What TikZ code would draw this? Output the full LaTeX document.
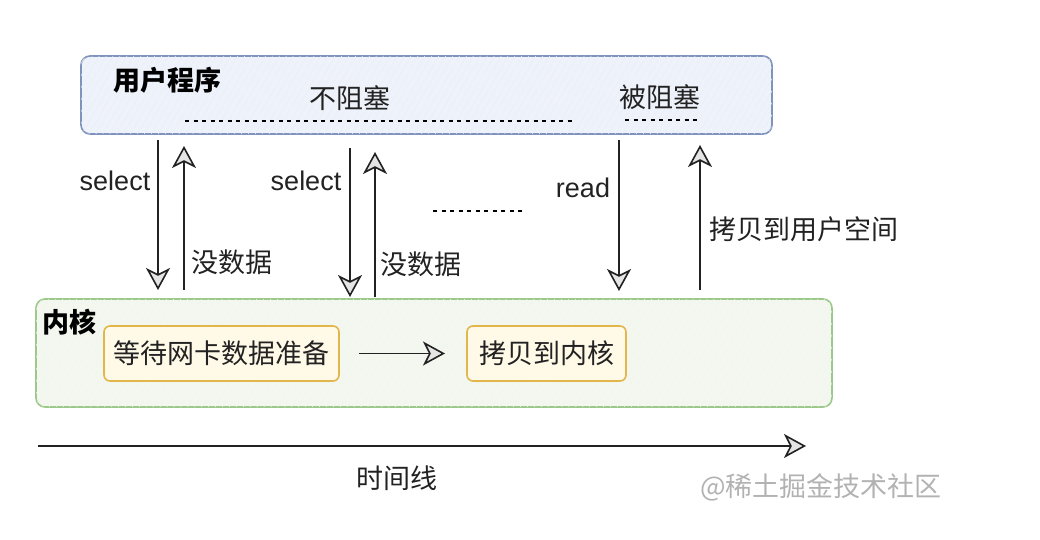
\documentclass[tikz,border=0pt]{standalone}
\usepackage{fontspec}
\setmainfont{Noto Sans CJK SC}
\newfontfamily\latinfont{Liberation Sans}
\usetikzlibrary{arrows.meta,patterns.meta,positioning}

\definecolor{userfill}{HTML}{EEF2FA}
\definecolor{userline}{HTML}{7F93BC}
\definecolor{kernfill}{HTML}{F3F7EF}
\definecolor{kernline}{HTML}{9CC98A}
\definecolor{stagefill}{HTML}{FFF9E8}
\definecolor{stageline}{HTML}{E2B64A}
\definecolor{inkgray}{HTML}{222222}

\tikzset{
  headtip/.tip={Stealth[open, length=22pt, width=24pt, inset=6pt, line width=1.6pt, fill=gray!20]}
}

\begin{document}
\begin{tikzpicture}[x=1pt, y=-1pt, font=\fontsize{27}{32}\selectfont, text=inkgray,
  lane/.style={rounded corners=9pt, line width=1.6pt, inner sep=0pt, outer sep=0pt,
    postaction={pattern={Lines[angle=60,distance=6pt,line width=0.5pt]}, pattern color=#1}},
  stage/.style={draw=stageline, fill=stagefill, rounded corners=6pt, line width=1.6pt,
    minimum height=55pt, inner xsep=4pt, outer sep=0pt},
  call/.style={draw=inkgray, line width=1.5pt, -headtip},
  wait/.style={line width=2.6pt, dash pattern=on 4pt off 4.5pt},
  lbl/.style={font=\latinfont\fontsize{27}{32}\selectfont},
  title/.style={font=\bfseries\fontsize{27}{32}\selectfont, text=black, anchor=west},
]
  \useasboundingbox (0,0) rectangle (1040,540);

  % user program
  \node[lane=userline!15, draw=userline, fill=userfill, minimum width=691pt, minimum height=78pt]
    (user) at (426.5,95) {};
  \node[title] (userlbl) at (110,80) {用户程序};
  \node (nonblock) at (350,98) {不阻塞};
  \node (block) at (660,97) {被阻塞};
  \draw[wait] (185,121) -- (575,121);
  \draw[wait] (625,120) -- (701,120);

  % kernel
  \node[lane=kernline!15, draw=kernline, fill=kernfill, minimum width=796pt, minimum height=108pt]
    (kernel) at (434,353) {};
  \node[title] (kernlbl) at (39,322) {内核};
  \node[stage, minimum width=235pt] (waitnic) at (221.5,353.5) {等待网卡数据准备};
  \node[stage, minimum width=159pt] (copyk) at (546.5,353.5) {拷贝到内核};
  \draw[call] ([xshift=20pt]waitnic.east) -- ([xshift=-22pt]copyk.west);

  % calls between the two
  \coordinate (s1a) at (158,140); \coordinate (s1b) at (158,290);
  \coordinate (r1a) at (184,290); \coordinate (r1b) at (184,146);
  \coordinate (s2a) at (350,148); \coordinate (s2b) at (350,297);
  \coordinate (r2a) at (375,297); \coordinate (r2b) at (375,152);
  \coordinate (rda) at (619,140); \coordinate (rdb) at (619,291);
  \coordinate (cpa) at (700,290); \coordinate (cpb) at (700,145);
  \draw[call] (s1a) -- (s1b);
  \draw[call] (r1a) -- (r1b);
  \draw[call] (s2a) -- (s2b);
  \draw[call] (r2a) -- (r2b);
  \draw[call] (rda) -- (rdb);
  \draw[call] (cpa) -- (cpb);
  \node[lbl] (sel1) at (115,181) {select};
  \node (nodata1) at (232,262) {没数据};
  \node[lbl] (sel2) at (306,181) {select};
  \node (nodata2) at (421,264) {没数据};
  \node[lbl] (rd) at (583,188) {read};
  \node (copyu) at (804,229) {拷贝到用户空间};
  \draw[wait, line width=2.2pt] (433,211) -- (522,211);

  % time line
  \coordinate (t0) at (38,446);
  \coordinate (t1) at (806,446);
  \draw[call] (t0) -- (t1);
  \node (timeln) at (397,478) {时间线};
  \node[text=gray!60] (mark) at (821,487) {@稀土掘金技术社区};
\end{tikzpicture}
\end{document}
